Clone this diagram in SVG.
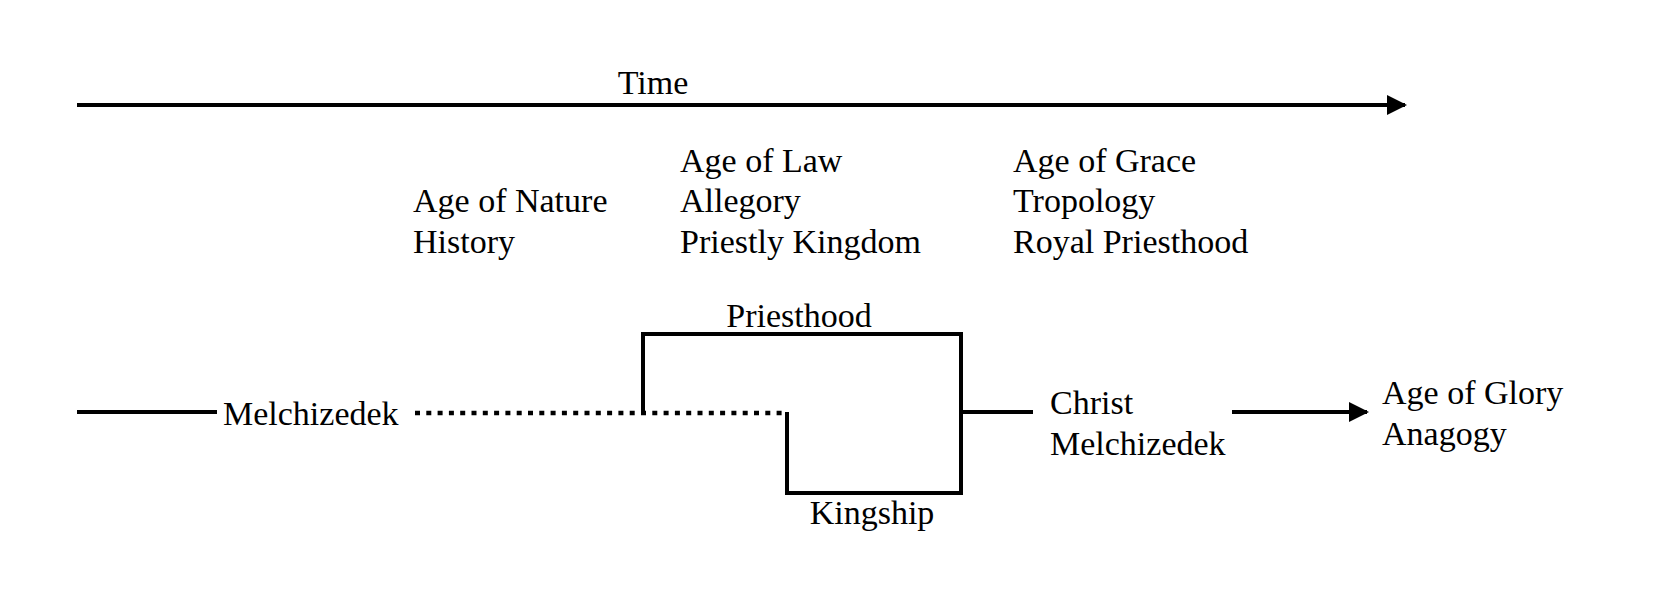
<svg xmlns="http://www.w3.org/2000/svg" width="1662" height="610" viewBox="0 0 1662 610">
<style>
text{font-family:"Liberation Serif","Times New Roman",serif;font-size:34px;fill:#000}
.ln{stroke:#000;stroke-width:4;fill:none}
.dot{stroke:#000;stroke-width:4.5;fill:none;stroke-dasharray:5 6.3}
</style>
<defs>
<marker id="ah" markerWidth="5" markerHeight="5" refX="4.5" refY="2.5" orient="auto" markerUnits="strokeWidth">
<path d="M0,0 L5,2.5 L0,5 Z" fill="#000"/>
</marker>
</defs>
<rect width="1662" height="610" fill="#fff"/>
<g id="connectors">
<line class="ln" x1="77" y1="105" x2="1405" y2="105" marker-end="url(#ah)"/>
<line class="ln" x1="77" y1="412" x2="217" y2="412"/>
<line class="dot" x1="415" y1="413" x2="786" y2="413"/>
<polyline class="ln" points="643,412 643,334 961,334 961,493 787,493 787,412"/>
<line class="ln" x1="961" y1="412" x2="1033" y2="412"/>
<line class="ln" x1="1232" y1="412" x2="1367" y2="412" marker-end="url(#ah)"/>
</g>
<g id="time"><text x="653" y="94" text-anchor="middle">Time</text></g>
<g id="nature"><text x="413" y="212">Age of Nature</text><text x="413" y="253">History</text></g>
<g id="law"><text x="680" y="172">Age of Law</text><text x="680" y="212">Allegory</text><text x="680" y="253">Priestly Kingdom</text></g>
<g id="grace"><text x="1013" y="172">Age of Grace</text><text x="1013" y="212">Tropology</text><text x="1013" y="253">Royal Priesthood</text></g>
<g id="melchizedek"><text x="223" y="425">Melchizedek</text></g>
<g id="priesthood"><text x="799" y="327" text-anchor="middle">Priesthood</text></g>
<g id="kingship"><text x="872" y="524" text-anchor="middle">Kingship</text></g>
<g id="christ"><text x="1050" y="414">Christ</text><text x="1050" y="455">Melchizedek</text></g>
<g id="glory"><text x="1382" y="404">Age of Glory</text><text x="1382" y="445">Anagogy</text></g>
</svg>
